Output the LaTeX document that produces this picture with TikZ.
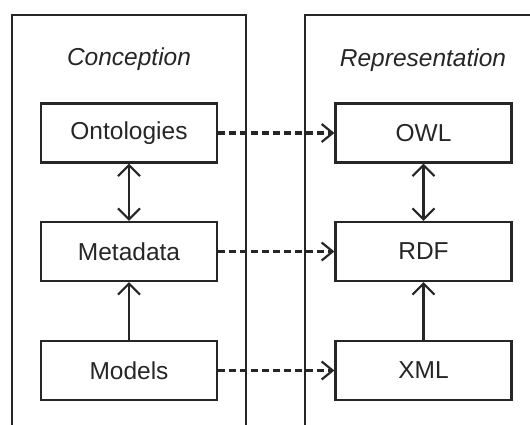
\documentclass[tikz,border=0pt]{standalone}
\usepackage{fontspec}
\setmainfont{Liberation Sans}
\usetikzlibrary{arrows.meta}
\begin{document}
\begin{tikzpicture}[x=1pt,y=-1pt,
  container/.style={line width=1.6pt, draw=black!85},
  block/.style={draw=black!85, line width=2.2pt, minimum width=176pt, minimum height=59pt, inner sep=0pt, font=\fontsize{24.5}{28}\selectfont, text=black!85},
  title/.style={font=\fontsize{24.5}{28}\selectfont\itshape, text=black!85},
  vtip/.style={line width=2.2pt},
  link/.style={line width=2.2pt, draw=black!85},
  dlink/.style={line width=3.2pt, draw=black!85, dash pattern=on 7pt off 4pt}
]
\useasboundingbox (0,0) rectangle (530,424);
% containers
\draw[container] (12,430) -- (12,15) -- (246,15) -- (246,430);
\draw[container] (305,430) -- (305,15) -- (535,15);
\node[title] (t1) at (129,59) {Conception};
\node[title] (t2) at (423,60) {Representation};
% blocks
\node[block] (ont) at (129,133) {Ontologies};
\node[block] (meta) at (129,251.5) {Metadata};
\node[block] (mod) at (129,370.5) {Models};
\node[block] (owl) at (423.5,133) {OWL};
\node[block] (rdf) at (423.5,251.5) {RDF};
\node[block] (xml) at (423.5,370.5) {XML};
% vertical arrows
\draw[link, {Straight Barb[length=11pt,width=22pt,line width=2.2pt]}-{Straight Barb[length=11pt,width=22pt,line width=2.2pt]}] (ont) -- (meta);
\draw[link, -{Straight Barb[length=11pt,width=22pt,line width=2.2pt]}] (mod) -- (meta);
\draw[link, {Straight Barb[length=11pt,width=22pt,line width=2.2pt]}-{Straight Barb[length=11pt,width=22pt,line width=2.2pt]}] (owl) -- (rdf);
\draw[link, -{Straight Barb[length=11pt,width=22pt,line width=2.2pt]}] (xml) -- (rdf);
% dashed arrows
\draw[dlink, -{Straight Barb[length=11pt,width=18pt,line width=2.2pt]}] (ont.east) -- (owl.west);
\draw[dlink, -{Straight Barb[length=11pt,width=18pt,line width=2.2pt]}] (meta.east) -- (rdf.west);
\draw[dlink, -{Straight Barb[length=11pt,width=18pt,line width=2.2pt]}] (mod.east) -- (xml.west);
\end{tikzpicture}
\end{document}
